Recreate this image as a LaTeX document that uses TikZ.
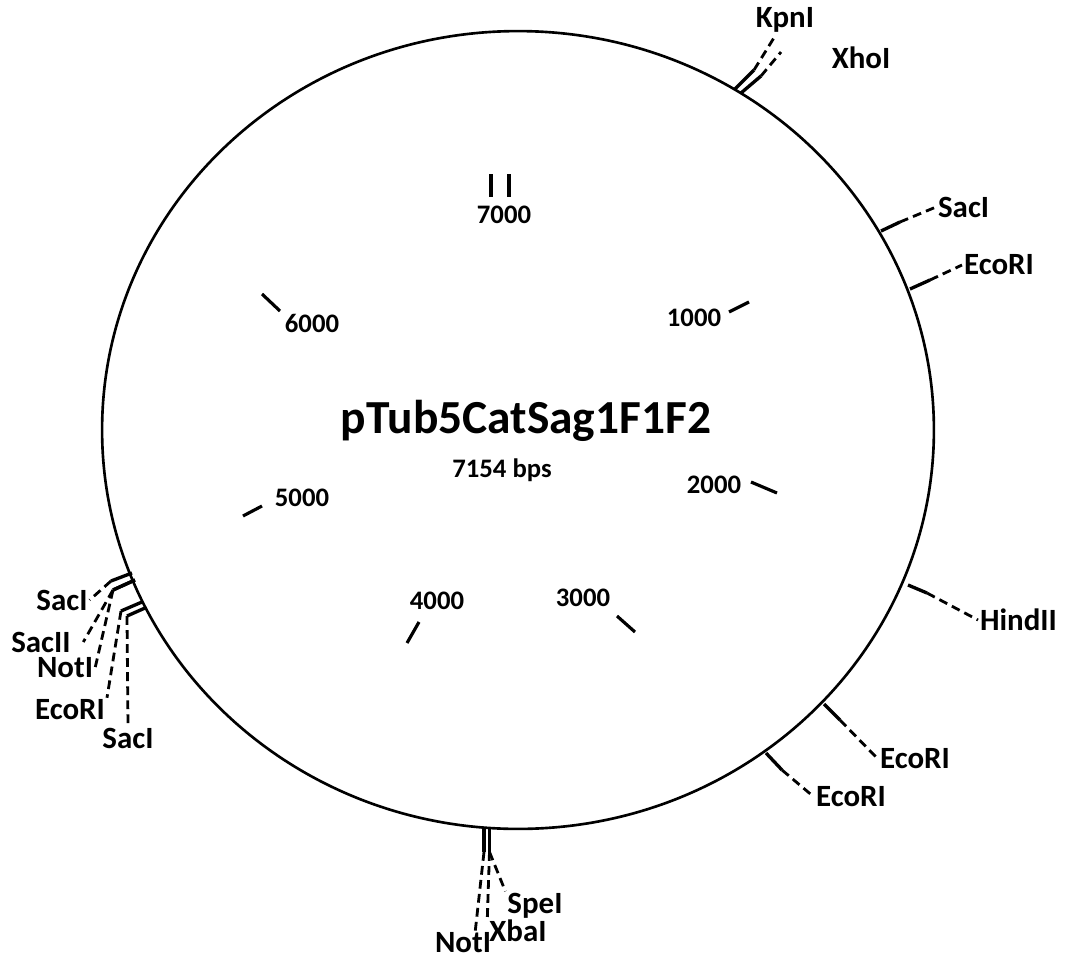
\documentclass[tikz,border=0pt]{standalone}
\usepackage{fontspec}
\setmainfont{Carlito}
\tikzset{
    site/.style={
        font=\fontsize{17.6}{20}\selectfont\bfseries, inner sep=1pt
    },
    ruler/.style={
        font=\fontsize{15.2}{18}\selectfont\bfseries, inner sep=1pt
    },
    cut/.style={line width=1.9pt},
    lead/.style={line width=1.6pt, dash pattern=on 5pt off 3pt},
    scaletick/.style={line width=1.8pt}
}

\begin{document}
\begin{tikzpicture}[x=0.02cm,y=-0.02cm]
\useasboundingbox (0,0) rectangle (1066,961);

% --- backbone ---
    \coordinate (O) at (518,430);
    \draw[line width=1.5pt] (O) ellipse [x radius=8.32cm, y radius=7.98cm];

% name and size
    \node[font=\fontsize{27}{32}\selectfont\bfseries] (name) at (526,421) {pTub5CatSag1F1F2};
    \node[ruler] (size) at (502,470) {7154 bps};

% scale ticks (inside)
    \draw[scaletick] (491,174) -- (491,197);
    \draw[scaletick] (509,174) -- (509,197);
    \node[ruler] (s7) at (504,215) {7000};
    \draw[scaletick] (729,312) -- (749,302);
    \node[ruler] (s1) at (694,318) {1000};
    \draw[scaletick] (751,482) -- (777,493);
    \node[ruler] (s2) at (714,485) {2000};
    \draw[scaletick] (617,616) -- (635,632);
    \node[ruler] (s3) at (583,598) {3000};
    \draw[scaletick] (419,622) -- (407,643);
    \node[ruler] (s4) at (437,601) {4000};
    \draw[scaletick] (262,506) -- (243,516);
    \node[ruler] (s5) at (302,498) {5000};
    \draw[scaletick] (262,294) -- (280,311);
    \node[ruler] (s6) at (312,323) {6000};

% KpnI / XhoI (top)
    \coordinate (kpnA) at (735,89);  \coordinate (kpnB) at (754,70);
    \coordinate (xhoA) at (741,93);  \coordinate (xhoB) at (761,76);
    \coordinate (xhoC) at (781,52);
    \node[site] (kpn) at (785,20) {KpnI};
    \node[site] (xho) at (861,58) {XhoI};
    \draw[cut] (kpnA) -- (kpnB);
    \draw[cut] (xhoA) -- (xhoB);
    \draw[lead] (kpnB) -- (kpn);
    \draw[lead] (xhoB) -- (xhoC);

% right side
    \coordinate (sacRA) at (881,231); \coordinate (sacRB) at (900,222);
    \node[site, anchor=west] (sacR) at (936,207) {SacI};
    \draw[cut] (sacRA) -- (sacRB);
    \draw[lead] (sacRB) -- (sacR.west);

    \coordinate (ecoRA) at (910,289); \coordinate (ecoRB) at (930,280);
    \node[site, anchor=west] (ecoR) at (962,265) {EcoRI};
    \draw[cut] (ecoRA) -- (ecoRB);
    \draw[lead] (ecoRB) -- (ecoR.west);

    \coordinate (hinA) at (908,585); \coordinate (hinB) at (927,593);
    \node[site, anchor=west] (hin) at (978,620) {HindII};
    \draw[cut] (hinA) -- (hinB);
    \draw[lead] (hinB) -- (hin.west);

    \coordinate (ecoAA) at (824,704); \coordinate (ecoAB) at (840,720);
    \node[site, anchor=west] (ecoA) at (878,759) {EcoRI};
    \draw[cut] (ecoAA) -- (ecoAB);
    \draw[lead] (ecoAB) -- (ecoA.west);

    \coordinate (ecoBA) at (766,753); \coordinate (ecoBB) at (782,770);
    \node[site, anchor=west] (ecoB) at (814,797) {EcoRI};
    \draw[cut] (ecoBA) -- (ecoBB);
    \draw[lead] (ecoBB) -- (ecoB.west);

% bottom group
    \coordinate (notBA) at (484,829); \coordinate (notBB) at (484,852);
    \coordinate (xbaA) at (489.5,829);  \coordinate (xbaB) at (489.5,852);
    \coordinate (speA) at (489.5,829);  \coordinate (speB) at (489.5,852);
    \node[site] (notB) at (463,943) {NotI};
    \node[site] (xba) at (518,931) {XbaI};
    \node[site] (spe) at (535,906) {SpeI};
    \draw[cut] (notBA) -- (notBB);
    \draw[cut] (xbaA) -- (xbaB);
    \draw[cut] (speA) -- (speB);
    \draw[lead] (notBB) -- ([xshift=7]notB.north);
    \draw[lead] (xbaB) -- (xba.north west);
    \draw[lead] (speB) -- (spe.north west);

% left group
    \coordinate (sacLA) at (132,573);  \coordinate (sacLB) at (111,581);
    \coordinate (saciiA) at (135,580); \coordinate (saciiB) at (113,590);
    \coordinate (notLA) at (135,580);  \coordinate (notLB) at (113,590);
    \coordinate (ecoLA) at (142,602);  \coordinate (ecoLB) at (121,611);
    \coordinate (sacMA) at (145,608);  \coordinate (sacMB) at (127,616);
    \node[site] (sacL) at (62,600) {SacI};
    \node[site] (sacii) at (41,642) {SacII};
    \node[site] (notL) at (65,668) {NotI};
    \node[site] (ecoL) at (70,710) {EcoRI};
    \node[site] (sacM) at (128,738) {SacI};
    \foreach \a/\b in {sacLA/sacLB,saciiA/saciiB,notLA/notLB,ecoLA/ecoLB,sacMA/sacMB}
        \draw[cut] (\a) -- (\b);
    \draw[lead] (sacLB) -- (sacL.east);
    \draw[lead] (saciiB) -- ([xshift=6]sacii.east);
    \draw[lead] (notLB) -- (notL.east);
    \draw[lead] (ecoLB) -- (ecoL.north east);
    \draw[lead] (sacMB) -- (sacM.north);

\end{tikzpicture}
\end{document}
